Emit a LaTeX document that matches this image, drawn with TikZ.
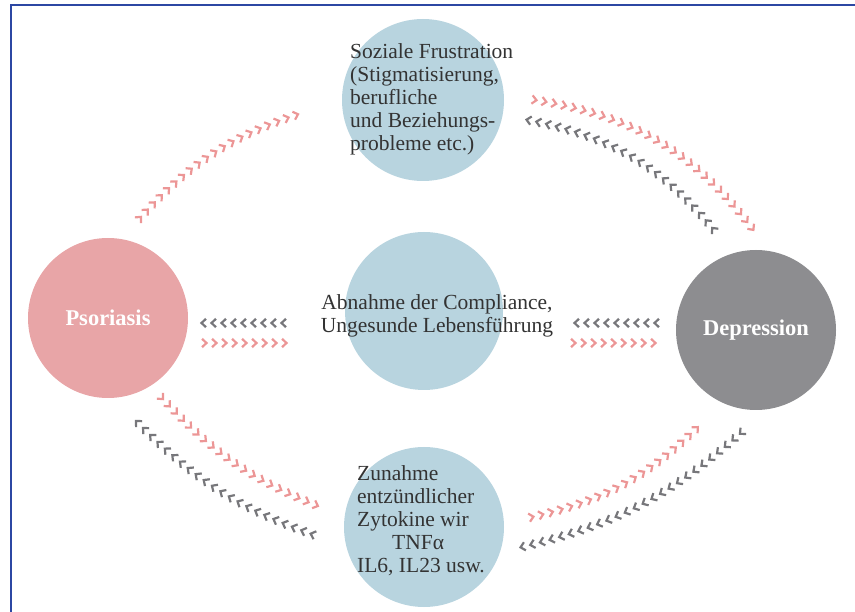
\documentclass[tikz,border=0pt]{standalone}
\usepackage{fontspec}
\setmainfont{Liberation Serif}
\usetikzlibrary{decorations.markings}
\definecolor{psorosa}{HTML}{E8A5A7}
\definecolor{depgrau}{HTML}{8D8D90}
\definecolor{hellblau}{HTML}{B8D4DF}
\definecolor{pfeilrosa}{HTML}{EC9696}
\definecolor{pfeilgrau}{HTML}{77777B}
\definecolor{rahmen}{HTML}{2C47A3}
\definecolor{schrift}{HTML}{333333}

\begin{document}
\begin{tikzpicture}[
            x=1pt, y=-1pt,
            big/.style={circle, minimum size=160pt, inner sep=0pt},
            label/.style={text=white, font=\bfseries\fontsize{22.5}{26}\selectfont},
            txt/.style={font=\fontsize{21.5}{23}\selectfont, text=schrift, inner sep=0pt},
            vor/.style={postaction={decorate, decoration={markings,
                        mark=between positions 0 and 1 step 10pt with {\draw[pfeilrosa, line width=2.2pt] (-3,-4.2) -- (1.5,0) -- (-3,4.2);}}}},
            zurueck/.style={postaction={decorate, decoration={markings,
                        mark=between positions 0 and 1 step 10pt with {\draw[pfeilgrau, line width=2.2pt] (3,-4.2) -- (-1.5,0) -- (3,4.2);}}}}
        ]
        \useasboundingbox (0,0) rectangle (855,612);
        \draw[rahmen, line width=1.3pt] (11,612) -- (11,5) -- (855,5);

        \node[big, fill=psorosa, label] (P) at (108,318) {Psoriasis};
        \node[big, fill=depgrau, label] (D) at (756,330) {Depression};
        \node[big, fill=hellblau, minimum size=162pt] (S) at (423,100) {};
        \node[big, fill=hellblau, minimum size=158pt] (C) at (424,311) {};
        \node[big, fill=hellblau] (Z) at (424,527) {};

        \node[txt, anchor=north west, align=left] (St) at (350,43)
            {Soziale Frustration\\(Stigmatisierung,\\berufliche\\und Beziehungs-\\probleme etc.)};
        \node[txt, align=center] (Ct) at (437,316)
            {Abnahme der Compliance,\\Ungesunde Lebensführung};
        \node[txt, anchor=north west, align=left] (Zt) at (357,465)
            {Zunahme\\entzündlicher\\Zytokine wir\\\hspace*{35pt}TNFα\\IL6, IL23 usw.};

        \coordinate (a1) at (140,218); \coordinate (a2) at (305,112);
        \coordinate (b1) at (535,100); \coordinate (b2) at (755,232);
        \coordinate (b3) at (528,120); \coordinate (b4) at (718,235);
        \coordinate (c1) at (203,323); \coordinate (c2) at (288,323);
        \coordinate (c3) at (205,343); \coordinate (c4) at (290,343);
        \coordinate (d1) at (576,323); \coordinate (d2) at (661,323);
        \coordinate (d3) at (574,343); \coordinate (d4) at (659,343);
        \coordinate (e1) at (162,398); \coordinate (e2) at (323,508);
        \coordinate (e3) at (137,422); \coordinate (e4) at (320,537);
        \coordinate (f1) at (532,517); \coordinate (f2) at (703,422);
        \coordinate (f3) at (522,547); \coordinate (f4) at (742,432);

        \path[vor] (a1) to[bend left=15] (a2);
        \path[vor] (b1) to[bend left=22] (b2);
        \path[zurueck] (b3) to[bend left=20] (b4);
        \path[zurueck] (c1) -- (c2);
        \path[vor] (c3) -- (c4);
        \path[zurueck] (d1) -- (d2);
        \path[vor] (d3) -- (d4);
        \path[vor] (e1) to[bend right=13] (e2);
        \path[zurueck] (e3) to[bend right=13] (e4);
        \path[vor] (f1) to[bend right=16] (f2);
        \path[zurueck] (f3) to[bend right=14] (f4);
    \end{tikzpicture}
\end{document}
